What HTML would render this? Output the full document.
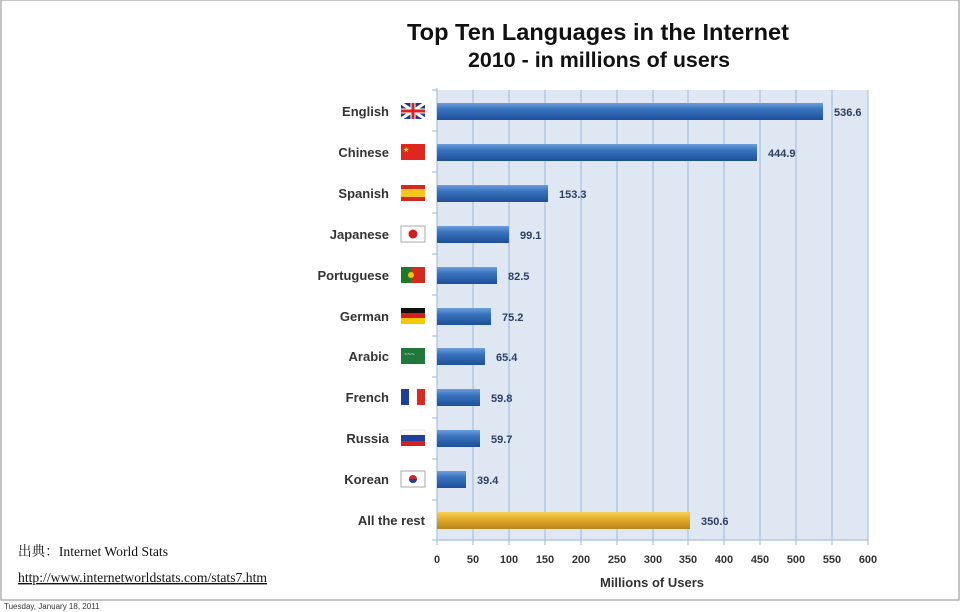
<!DOCTYPE html>
<html><head><meta charset="utf-8"><style>
body{margin:0;width:960px;height:612px;background:#fff;overflow:hidden}
svg{display:block}
</style></head><body>
<svg width="960" height="612" xmlns="http://www.w3.org/2000/svg" font-family="Liberation Sans, sans-serif">
<defs>
<linearGradient id="b" x1="0" y1="0" x2="0" y2="1"><stop offset="0" stop-color="#6f9fdc"/><stop offset="0.35" stop-color="#3a74c0"/><stop offset="1" stop-color="#1d4f96"/></linearGradient>
<linearGradient id="g" x1="0" y1="0" x2="0" y2="1"><stop offset="0" stop-color="#f5cf55"/><stop offset="0.4" stop-color="#e4ad2c"/><stop offset="1" stop-color="#b9841a"/></linearGradient>
</defs>
<rect x="1" y="0" width="958" height="600" fill="#fff" stroke="#888" stroke-width="1"/>
<text x="598" y="40" text-anchor="middle" font-size="23" font-weight="bold" fill="#111" textLength="382" lengthAdjust="spacingAndGlyphs">Top Ten Languages in the Internet</text>
<text x="599" y="67" text-anchor="middle" font-size="21" font-weight="bold" fill="#111" textLength="262" lengthAdjust="spacingAndGlyphs">2010 - in millions of users</text>
<rect x="437" y="90" width="431" height="450" fill="#dfe7f2"/>
<g stroke="#a8c0df" stroke-width="1.2">
<line x1="473" y1="90" x2="473" y2="545"/><line x1="509" y1="90" x2="509" y2="545"/><line x1="545" y1="90" x2="545" y2="545"/><line x1="581" y1="90" x2="581" y2="545"/><line x1="617" y1="90" x2="617" y2="545"/><line x1="653" y1="90" x2="653" y2="545"/><line x1="688" y1="90" x2="688" y2="545"/><line x1="724" y1="90" x2="724" y2="545"/><line x1="760" y1="90" x2="760" y2="545"/><line x1="796" y1="90" x2="796" y2="545"/><line x1="832" y1="90" x2="832" y2="545"/><line x1="868" y1="90" x2="868" y2="545"/>
<line x1="437" y1="88" x2="437" y2="545"/><line x1="437" y1="540" x2="868" y2="540"/>
<line x1="432" y1="90" x2="437" y2="90"/><line x1="432" y1="131" x2="437" y2="131"/><line x1="432" y1="172" x2="437" y2="172"/><line x1="432" y1="213" x2="437" y2="213"/><line x1="432" y1="254" x2="437" y2="254"/><line x1="432" y1="295" x2="437" y2="295"/><line x1="432" y1="336" x2="437" y2="336"/><line x1="432" y1="377" x2="437" y2="377"/><line x1="432" y1="418" x2="437" y2="418"/><line x1="432" y1="459" x2="437" y2="459"/><line x1="432" y1="500" x2="437" y2="500"/><line x1="432" y1="540" x2="437" y2="540"/>
</g>
<g fill="url(#b)">
<rect x="437" y="103" width="386" height="17"/>
<rect x="437" y="144" width="320" height="17"/>
<rect x="437" y="185" width="111" height="17"/>
<rect x="437" y="226" width="72" height="17"/>
<rect x="437" y="267" width="60" height="17"/>
<rect x="437" y="308" width="54" height="17"/>
<rect x="437" y="348" width="48" height="17"/>
<rect x="437" y="389" width="43" height="17"/>
<rect x="437" y="430" width="43" height="17"/>
<rect x="437" y="471" width="29" height="17"/>
</g>
<rect x="437" y="512" width="253" height="17" fill="url(#g)"/>
<g font-size="11" font-weight="bold" fill="#2b3f66">
<text x="834" y="116">536.6</text><text x="768" y="157">444.9</text><text x="559" y="198">153.3</text><text x="520" y="239">99.1</text><text x="508" y="280">82.5</text><text x="502" y="321">75.2</text><text x="496" y="361">65.4</text><text x="491" y="402">59.8</text><text x="491" y="443">59.7</text><text x="477" y="484">39.4</text><text x="701" y="525">350.6</text>
</g>
<g font-size="13" font-weight="bold" fill="#333" text-anchor="end">
<text x="389" y="116">English</text><text x="389" y="157">Chinese</text><text x="389" y="198">Spanish</text><text x="389" y="239">Japanese</text><text x="389" y="280">Portuguese</text><text x="389" y="321">German</text><text x="389" y="361">Arabic</text><text x="389" y="402">French</text><text x="389" y="443">Russia</text><text x="389" y="484">Korean</text><text x="425" y="525">All the rest</text>
</g>
<rect x="401" y="103" width="24" height="16" fill="#1f3b8a"/><path d="M401 103L425 119M425 103L401 119" stroke="#fff" stroke-width="3"/><path d="M413 103V119M401 111H425" stroke="#fff" stroke-width="5"/><path d="M413 103V119M401 111H425" stroke="#d22" stroke-width="3"/>
<rect x="401" y="144" width="24" height="16" fill="#e0261d"/><text x="403" y="152" font-size="7" fill="#ff0">★</text>
<rect x="401" y="185" width="24" height="16" fill="#d42a1e"/><rect x="401" y="189" width="24" height="8" fill="#f7c51e"/>
<rect x="401" y="226" width="24" height="16" fill="#fff" stroke="#aaa"/><circle cx="413" cy="234" r="4.5" fill="#d41a1a"/>
<rect x="401" y="267" width="24" height="16" fill="#d42a1e"/><rect x="401" y="267" width="10" height="16" fill="#1d7a2a"/><circle cx="411" cy="275" r="3" fill="#f5c400"/>
<rect x="401" y="308" width="24" height="6" fill="#111"/><rect x="401" y="313" width="24" height="6" fill="#d81e1e"/><rect x="401" y="318" width="24" height="6" fill="#f5c800"/>
<rect x="401" y="348" width="24" height="16" fill="#1f7a3a"/><text x="404" y="356" font-size="6" fill="#fff">~~~</text>
<rect x="401" y="389" width="8" height="16" fill="#1d3f9e"/><rect x="409" y="389" width="8" height="16" fill="#fff"/><rect x="417" y="389" width="8" height="16" fill="#e0261d"/>
<rect x="401" y="430" width="24" height="5" fill="#fff" stroke="#ccc" stroke-width=".5"/><rect x="401" y="435" width="24" height="6" fill="#1d3f9e"/><rect x="401" y="441" width="24" height="5" fill="#d81e1e"/>
<rect x="401" y="471" width="24" height="16" fill="#fff" stroke="#aaa"/><circle cx="413" cy="479" r="4" fill="#c8282e"/><path d="M409 479a4 4 0 0 0 8 0z" fill="#1d3f9e"/>
<g font-size="11" font-weight="bold" fill="#333" text-anchor="middle">
<text x="437" y="563">0</text><text x="473" y="563">50</text><text x="509" y="563">100</text><text x="545" y="563">150</text><text x="581" y="563">200</text><text x="617" y="563">250</text><text x="653" y="563">300</text><text x="688" y="563">350</text><text x="724" y="563">400</text><text x="760" y="563">450</text><text x="796" y="563">500</text><text x="832" y="563">550</text><text x="868" y="563">600</text>
</g>
<text x="652" y="587" text-anchor="middle" font-size="13" font-weight="bold" fill="#333">Millions of Users</text>
<text x="18" y="556" font-size="14" font-family="Liberation Serif, Noto Serif CJK SC, serif" fill="#111" textLength="150" lengthAdjust="spacingAndGlyphs">出典：Internet World Stats</text>
<text x="18" y="582" font-size="14" font-family="Liberation Serif, serif" fill="#111" text-decoration="underline" textLength="249" lengthAdjust="spacingAndGlyphs">http://www.internetworldstats.com/stats7.htm</text>
<text x="4" y="609" font-size="8" fill="#333">Tuesday, January 18, 2011</text>
</svg>
</body></html>
